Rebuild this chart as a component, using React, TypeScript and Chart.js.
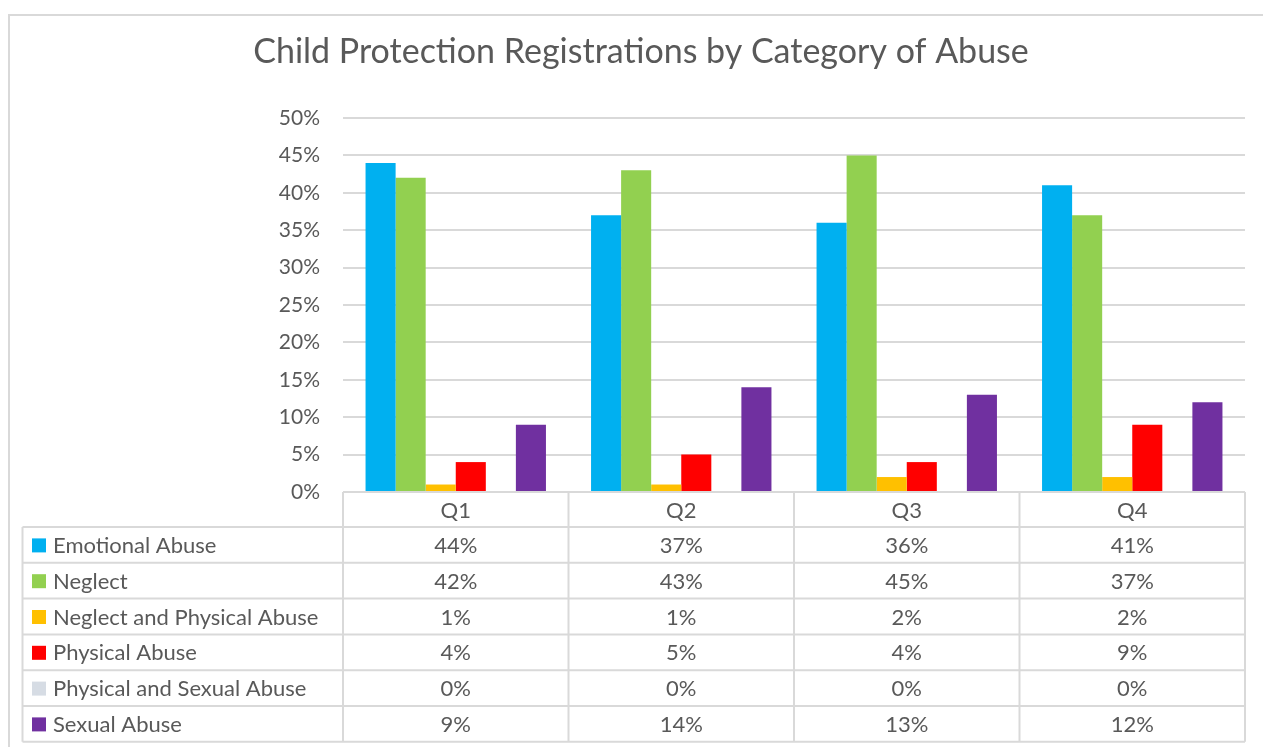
import React, { useEffect, useRef } from "react";
import { Chart, registerables } from "chart.js";

Chart.register(...registerables);

const TITLE = "Child Protection Registrations by Category of Abuse";
const QUARTERS = ["Q1", "Q2", "Q3", "Q4"];
const SERIES_NAMES = [
  "Emotional Abuse",
  "Neglect",
  "Neglect and Physical Abuse",
  "Physical Abuse",
  "Physical and Sexual Abuse",
  "Sexual Abuse",
];
const SERIES_COLORS = ["#00B0F0", "#92D050", "#FFC000", "#FF0000", "#D6DCE4", "#7030A0"];
const EMOTIONAL = [44, 37, 36, 41];
const NEGLECT = [42, 43, 45, 37];
const NEGLECT_PHYSICAL = [1, 1, 2, 2];
const PHYSICAL = [4, 5, 4, 9];
const PHYSICAL_SEXUAL = [0, 0, 0, 0];
const SEXUAL = [9, 14, 13, 12];
const SERIES_VALUES = [EMOTIONAL, NEGLECT, NEGLECT_PHYSICAL, PHYSICAL, PHYSICAL_SEXUAL, SEXUAL];
const Y_MAX = 50;
const Y_STEP = 5;

const FONT = "Lato, 'Open Sans', sans-serif";
const TEXT = "#595959";
const LINE = "#D9D9D9";

const tablePlugin = {
  id: "dataTable",
  afterDraw(chart: any) {
    const ctx = chart.ctx;
    const x = chart.scales.x;
    const area = chart.chartArea;
    const n = QUARTERS.length;
    const colW = (area.right - area.left) / n;
    const headerH = 35;
    const rowH = 35.8;
    const leftX = 22.5;
    const top = area.bottom;
    const rowsTop = top + headerH;
    const bottom = rowsTop + rowH * SERIES_NAMES.length;

    ctx.save();
    // outer chart border
    ctx.strokeStyle = LINE;
    ctx.lineWidth = 2;
    ctx.beginPath();
    ctx.moveTo(9, 760);
    ctx.lineTo(9, 15);
    ctx.lineTo(1280, 15);
    ctx.stroke();

    // title
    ctx.fillStyle = TEXT;
    ctx.font = `34px ${FONT}`;
    ctx.textAlign = "center";
    ctx.textBaseline = "middle";
    ctx.fillText(TITLE, 641, 52);

    ctx.lineWidth = 2;
    ctx.strokeStyle = LINE;
    ctx.beginPath();
    ctx.moveTo(area.left, top);
    ctx.lineTo(area.right, top);
    for (let r = 0; r <= SERIES_NAMES.length; r++) {
      const y = rowsTop + r * rowH;
      ctx.moveTo(leftX, y);
      ctx.lineTo(area.right, y);
    }
    ctx.moveTo(leftX, rowsTop);
    ctx.lineTo(leftX, bottom);
    for (let c = 0; c <= n; c++) {
      const xx = area.left + c * colW;
      ctx.moveTo(xx, top);
      ctx.lineTo(xx, bottom);
    }
    ctx.stroke();

    ctx.fillStyle = TEXT;
    ctx.font = `22px ${FONT}`;
    ctx.textAlign = "center";
    ctx.textBaseline = "middle";
    QUARTERS.forEach((q, i) => {
      ctx.fillText(q, x.getPixelForValue(i), top + headerH / 2 + 1);
    });
    SERIES_NAMES.forEach((name, r) => {
      const cy = rowsTop + r * rowH + rowH / 2 + 1;
      ctx.fillStyle = SERIES_COLORS[r];
      ctx.fillRect(32, cy - 7.5, 14, 14);
      ctx.fillStyle = TEXT;
      ctx.textAlign = "left";
      ctx.fillText(name, 53, cy);
      ctx.textAlign = "center";
      SERIES_VALUES[r].forEach((v, i) => {
        ctx.fillText(`${v}%`, x.getPixelForValue(i), cy);
      });
    });
    ctx.restore();
  },
};

export default function App() {
  const ref = useRef<HTMLCanvasElement>(null);
  useEffect(() => {
    if (!ref.current) return;
    const chart = new Chart(ref.current, {
      type: "bar",
      data: {
        labels: QUARTERS,
        datasets: SERIES_NAMES.map((name, i) => ({
          label: name,
          data: SERIES_VALUES[i],
          backgroundColor: SERIES_COLORS[i],
          borderWidth: 0,
          categoryPercentage: 0.8,
          barPercentage: 1.0,
        })),
      },
      options: {
        animation: false,
        responsive: false,
        devicePixelRatio: 1,
        layout: { padding: { left: 243, right: 18, top: 118, bottom: 255 } },
        plugins: {
          legend: { display: false },
          tooltip: { enabled: false },
          title: { display: false },
        },
        scales: {
          x: { display: false },
          y: {
            min: 0,
            max: Y_MAX,
            afterFit: (axis: any) => {
              axis.width = 100;
            },
            ticks: {
              stepSize: Y_STEP,
              color: TEXT,
              padding: 23,
              font: { family: FONT, size: 21 },
              callback: (v: any) => `${v}%`,
            },
            grid: { color: LINE, lineWidth: 2, drawTicks: false },
            border: { display: false },
          },
        },
      },
      plugins: [tablePlugin],
    });
    return () => chart.destroy();
  }, []);
  return (
    <div style={{ position: "absolute", left: 0, top: 0, width: 1263, height: 747, background: "#fff" }}>
      <canvas ref={ref} width={1263} height={747} style={{ width: 1263, height: 747, display: "block" }} />
    </div>
  );
}
